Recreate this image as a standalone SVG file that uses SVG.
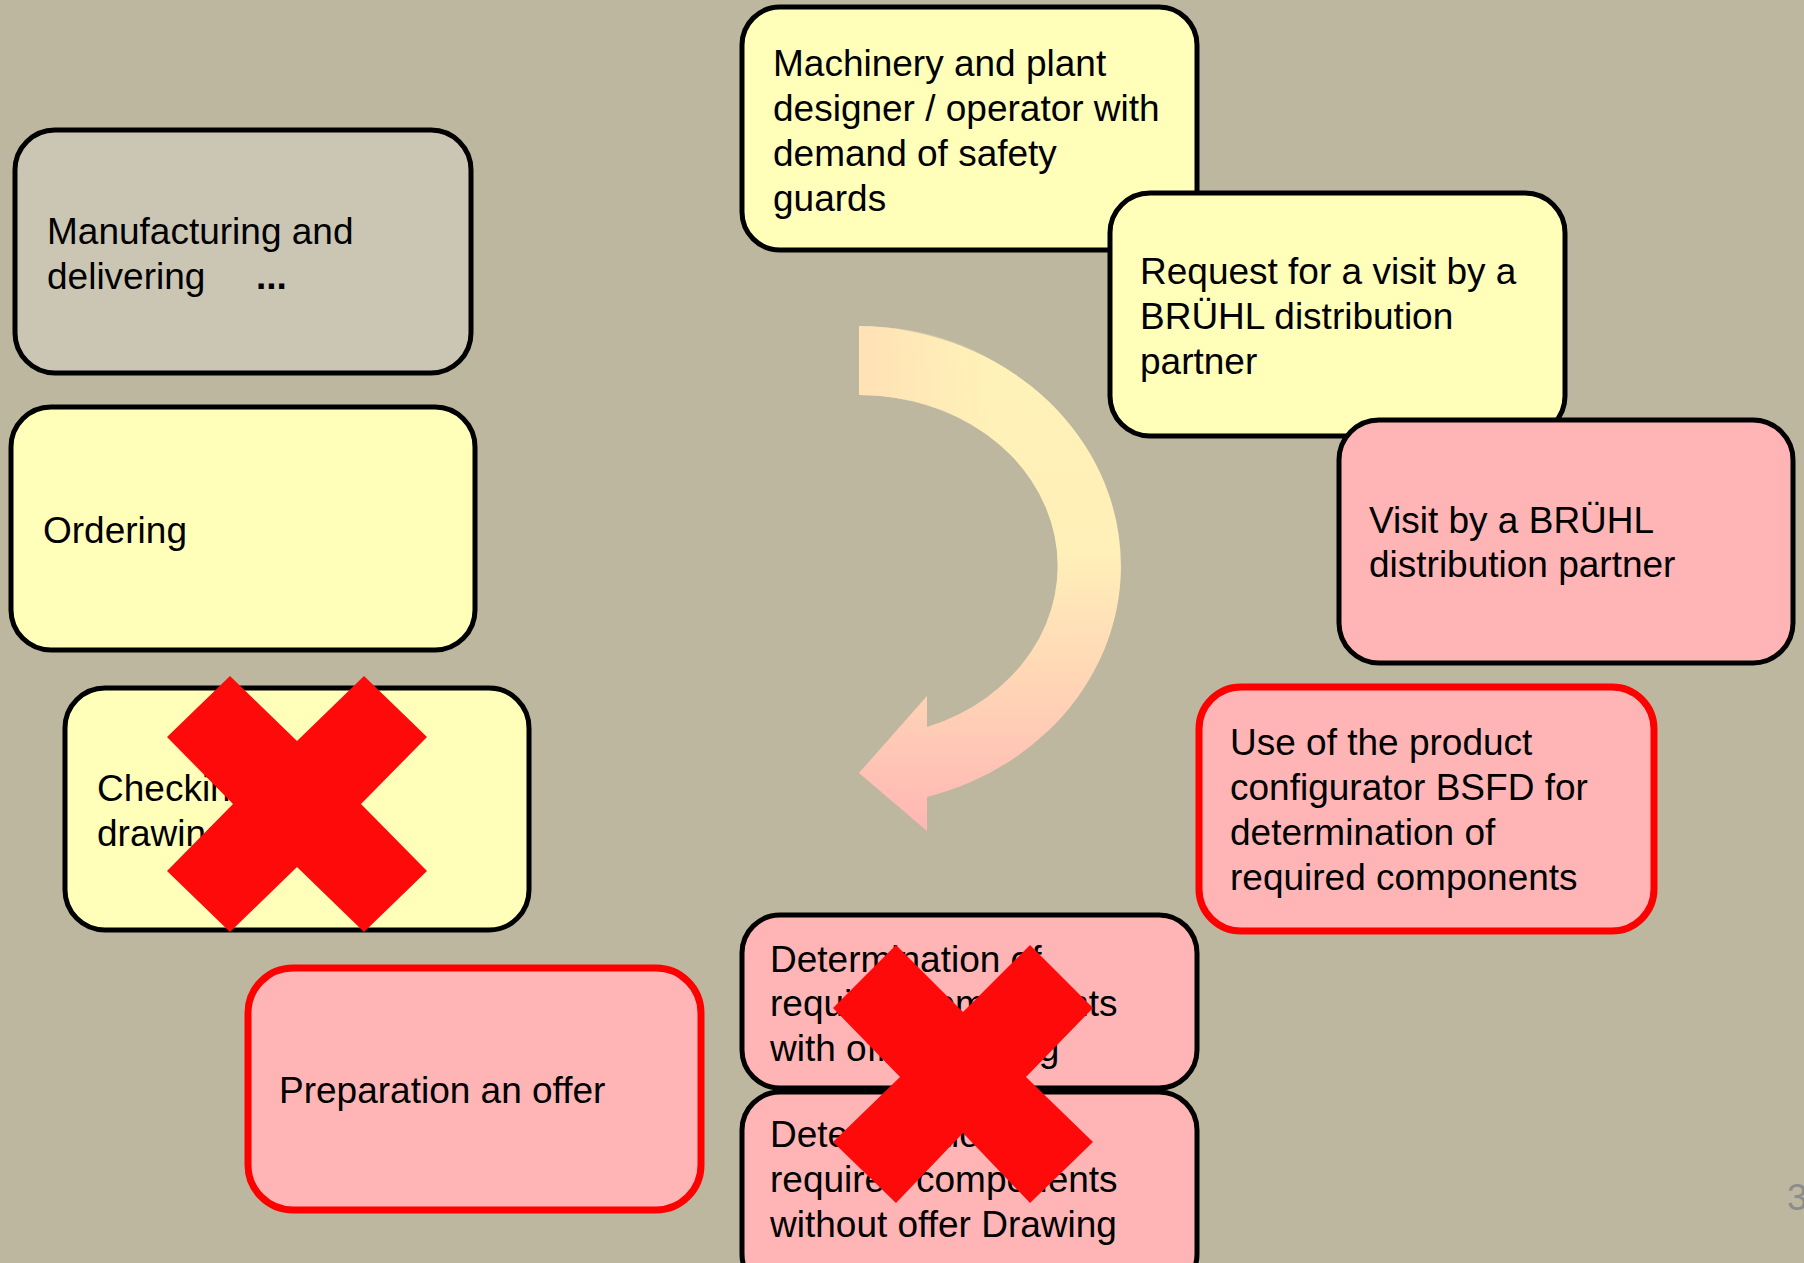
<svg xmlns="http://www.w3.org/2000/svg" width="1804" height="1263" viewBox="0 0 1804 1263">
<style>
.t{font-family:"Liberation Sans",Arial,sans-serif;font-size:37px;fill:#000}
.bk{stroke:#000;stroke-width:5}
.rd{stroke:#FF0000;stroke-width:7}
.y{fill:#FFFFBA}
.p{fill:#FFB5B5}
.g{fill:#CBC6B3}
.x{fill:#FF0A0A}
</style>
<defs>
<linearGradient id="arr" x1="0" y1="0" x2="0" y2="1">
<stop offset="0" stop-color="#FFF3B8"/>
<stop offset="0.45" stop-color="#FFEFB8"/>
<stop offset="0.7" stop-color="#FFD6B6"/>
<stop offset="1" stop-color="#FFB6B4"/>
</linearGradient>
<linearGradient id="arrh" x1="0" y1="0" x2="1" y2="0">
<stop offset="0" stop-color="#FFDDB5" stop-opacity="0.8"/>
<stop offset="0.5" stop-color="#FFDDB5" stop-opacity="0"/>
</linearGradient>
</defs>
<rect width="1804" height="1263" fill="#BDB7A0"/>
<g id="connectors">
<path d="M859 326 A266 240 0 0 1 927 797 L927 831 L859 773 L927 696 L927 727 A197 171 0 0 0 859 395 Z" fill="url(#arr)"/>
<path d="M859 326 A266 240 0 0 1 1125 566 L1056 566 A197 171 0 0 0 859 395 Z" fill="url(#arrh)"/>
</g>
<g id="n-manufacturing">
<rect x="15" y="130" width="456" height="243" rx="40" class="g bk"/>
<text class="t" x="47" y="244">Manufacturing and</text>
<text class="t" x="47" y="289">delivering</text>
<text class="t" x="256" y="289" font-weight="bold">...</text>
</g>
<g id="n-ordering">
<rect x="11" y="407" width="464" height="243" rx="40" class="y bk"/>
<text class="t" x="43" y="543">Ordering</text>
</g>
<g id="n-checking">
<rect x="65" y="688" width="464" height="242" rx="40" class="y bk"/>
<text class="t" x="97" y="801">Checking offer</text>
<text class="t" x="97" y="846">drawing</text>
<polygon class="x" points="230,676 297,741 364,676 427,737 361,804 427,871 364,932 297,867 230,932 167,871 233,804 167,737"/>
</g>
<g id="n-preparation">
<rect x="248" y="968" width="453" height="242" rx="45" class="p rd"/>
<text class="t" x="279" y="1103">Preparation an offer</text>
</g>
<g id="n-machinery">
<rect x="742" y="7" width="455" height="243" rx="38" class="y bk"/>
<text class="t" x="773" y="76">Machinery and plant</text>
<text class="t" x="773" y="121">designer / operator with</text>
<text class="t" x="773" y="166">demand of safety</text>
<text class="t" x="773" y="211">guards</text>
</g>
<g id="n-request">
<rect x="1110" y="193" width="455" height="243" rx="40" class="y bk"/>
<text class="t" x="1140" y="284">Request for a visit by a</text>
<text class="t" x="1140" y="329">BRÜHL distribution</text>
<text class="t" x="1140" y="374">partner</text>
</g>
<g id="n-visit">
<rect x="1339" y="420" width="454" height="243" rx="40" class="p bk"/>
<text class="t" x="1369" y="533">Visit by a BRÜHL</text>
<text class="t" x="1369" y="577">distribution partner</text>
</g>
<g id="n-configurator">
<rect x="1199" y="687" width="455" height="244" rx="42" class="p rd"/>
<text class="t" x="1230" y="755">Use of the product</text>
<text class="t" x="1230" y="800">configurator BSFD for</text>
<text class="t" x="1230" y="845">determination of</text>
<text class="t" x="1230" y="890">required components</text>
</g>
<g id="n-det-with">
<rect x="742" y="915" width="455" height="173" rx="38" class="p bk"/>
<text class="t" x="770" y="972">Determination of</text>
<text class="t" x="770" y="1016">required components</text>
<text class="t" x="770" y="1061">with offer drawing</text>
</g>
<g id="n-det-without">
<rect x="742" y="1092" width="455" height="200" rx="38" class="p bk"/>
<text class="t" x="770" y="1147">Determination of</text>
<text class="t" x="770" y="1192">required components</text>
<text class="t" x="770" y="1237">without offer Drawing</text>
</g>
<g id="x-determination">
<polygon class="x" points="896,945 963,1012 1030,945 1093,1008 1026,1077 1093,1142 1030,1203 963,1133 896,1203 833,1142 900,1077 833,1008"/>
</g>
<text x="1787" y="1210" font-family="Liberation Sans,Arial,sans-serif" font-size="37" fill="#8C8C8C">3</text>
</svg>
